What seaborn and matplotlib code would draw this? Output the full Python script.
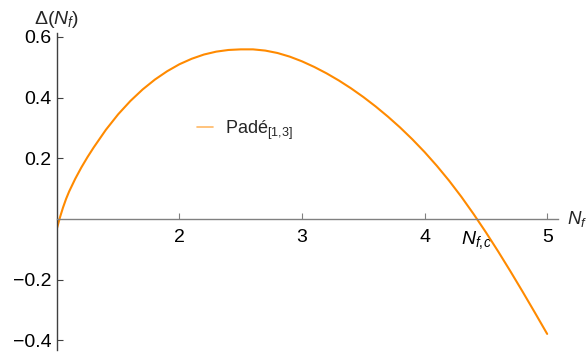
import matplotlib
matplotlib.use("Agg")
import matplotlib.pyplot as plt
import seaborn as sns
import pandas as pd

# Padé[1,3] approximant of Delta(N_f), sampled values
n_f = [1.0, 1.025, 1.05, 1.075, 1.1, 1.15, 1.2, 1.25, 1.3, 1.4, 1.5,
       1.6, 1.7, 1.8, 1.9, 2.0, 2.1, 2.2, 2.3, 2.4, 2.5, 2.6, 2.7,
       2.8, 2.9, 3.0, 3.1, 3.2, 3.3, 3.4, 3.5, 3.6, 3.7, 3.8, 3.9,
       4.0, 4.1, 4.2, 4.3, 4.4, 4.5, 4.6, 4.7, 4.8, 4.9, 5.0]
delta = [-0.032, 0.005, 0.0375, 0.066, 0.0905, 0.1325, 0.170, 0.204,
         0.2355, 0.294, 0.345, 0.389, 0.427, 0.4595, 0.487, 0.510, 0.528,
         0.542, 0.5515, 0.557, 0.559, 0.559, 0.555, 0.547, 0.535, 0.5195,
         0.501, 0.480, 0.4565, 0.4305, 0.402, 0.371, 0.3375, 0.3015,
         0.2625, 0.2205, 0.175, 0.126, 0.073, 0.016, -0.044, -0.107,
         -0.1725, -0.240, -0.309, -0.379]

n_fc = 4.42                       # zero crossing N_{f,c}
x_ticks = [2, 3, 4, 5]
x_tick_labels = ["2", "3", "4", "5"]
y_ticks = [-0.4, -0.2, 0.2, 0.4, 0.6]
y_tick_labels = ["\u22120.4", "\u22120.2", "0.2", "0.4", "0.6"]
series_label = r"Padé$_{\mathrm{[1,\!3]}}$"

df = pd.DataFrame({"N_f": n_f, "Delta": delta})

sns.set_theme(style="white")
plt.rcParams["font.family"] = ["Liberation Sans", "DejaVu Sans"]
plt.rcParams["mathtext.fontset"] = "custom"
plt.rcParams["mathtext.rm"] = "Liberation Sans"
plt.rcParams["mathtext.it"] = "Liberation Sans:italic"
plt.rcParams["mathtext.bf"] = "Liberation Sans:bold"

fig = plt.figure(figsize=(5.87, 3.52), dpi=100)
ax = fig.add_axes([0.0969, 0.0057, 0.853, 0.9006])

orange = "#ff8a00"
sns.lineplot(data=df, x="N_f", y="Delta", ax=ax, color=orange,
             linewidth=1.5, label=series_label, sort=True)

ax.set_xlim(1.0, 5.085)
ax.set_ylim(-0.432, 0.613)

# Axes crossing at (1, 0)
for s in ["top", "right"]:
    ax.spines[s].set_visible(False)
ax.spines["bottom"].set_position(("data", 0))
ax.spines["bottom"].set_color("#808080")
ax.spines["left"].set_color("#404040")
ax.spines["bottom"].set_linewidth(1.0)
ax.spines["left"].set_linewidth(1.0)

ax.set_xticks(x_ticks, x_tick_labels)
ax.set_xticks([n_fc], [r"$N_{f,\!c}$"], minor=True)
ax.set_yticks(y_ticks, y_tick_labels)

ax.tick_params(axis="x", which="major", direction="in", length=4, width=0.8,
               color="#808080", labelsize=14, pad=7, labelcolor="black")
ax.tick_params(axis="x", which="minor", direction="inout", length=9, width=0.8,
               color="#606060", labelsize=14, pad=2.5, labelcolor="black")
ax.tick_params(axis="y", which="major", direction="in", length=4, width=0.8,
               color="#404040", labelsize=14, pad=4, labelcolor="black")
ax.tick_params(left=True, bottom=True)
ax.set_xlabel("")
ax.set_ylabel("")

# Axis labels at the ends of the axes
ax.annotate(r"$N_f$", xy=(1.0, 0), xycoords=("axes fraction", "data"),
            xytext=(6.5, 0), textcoords="offset points",
            ha="left", va="center", fontsize=13.5)
ax.annotate(r"Δ($N_f$)", xy=(0, 1), xycoords="axes fraction",
            xytext=(0, 2), textcoords="offset points",
            ha="center", va="bottom", fontsize=14)

leg = ax.legend(loc="center left", bbox_to_anchor=(0.279, 0.694),
                frameon=False, fontsize=13, handlelength=0.9,
                handletextpad=0.7, borderpad=0, borderaxespad=0)
for h in leg.get_lines():
    h.set_linewidth(1.2)
    h.set_alpha(0.6)

fig.savefig("out.png", dpi=100)
